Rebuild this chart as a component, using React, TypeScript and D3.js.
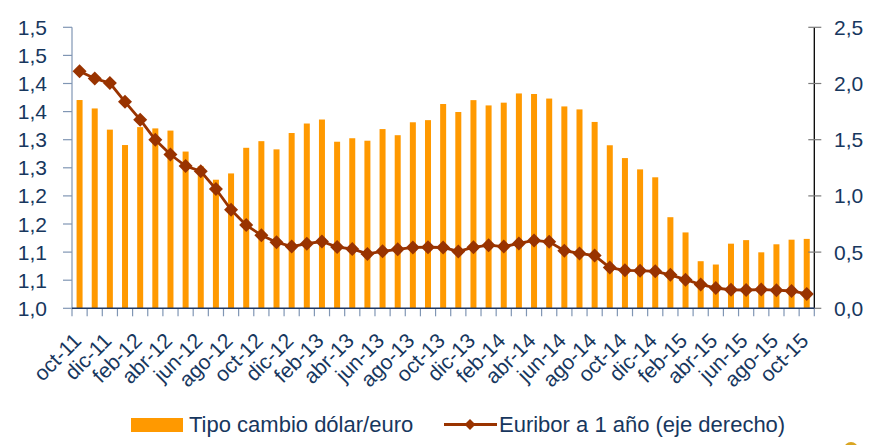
import React from "react";
import * as d3 from "d3";

const categories = [
  "oct-11","nov-11","dic-11",
  "ene-12","feb-12","mar-12","abr-12","may-12","jun-12","jul-12","ago-12","sep-12","oct-12","nov-12","dic-12",
  "ene-13","feb-13","mar-13","abr-13","may-13","jun-13","jul-13","ago-13","sep-13","oct-13","nov-13","dic-13",
  "ene-14","feb-14","mar-14","abr-14","may-14","jun-14","jul-14","ago-14","sep-14","oct-14","nov-14","dic-14",
  "ene-15","feb-15","mar-15","abr-15","may-15","jun-15","jul-15","ago-15","sep-15","oct-15",
];

const tipoCambio = [
  1.3706, 1.3556, 1.3179,
  1.2905, 1.3224, 1.3201, 1.3162, 1.2789, 1.2526, 1.2288, 1.2400, 1.2856, 1.2974, 1.2828, 1.3119,
  1.3288, 1.3359, 1.2964, 1.3026, 1.2982, 1.3189, 1.3080, 1.3310, 1.3348, 1.3635, 1.3493, 1.3704,
  1.3610, 1.3659, 1.3823, 1.3813, 1.3732, 1.3592, 1.3539, 1.3316, 1.2901, 1.2673, 1.2472, 1.2331,
  1.1621, 1.1350, 1.0838, 1.0779, 1.1150, 1.1213, 1.0996, 1.1139, 1.1221, 1.1235,
];

const euribor = [
  2.110, 2.044, 2.004,
  1.837, 1.678, 1.499, 1.368, 1.266, 1.219, 1.061, 0.877, 0.740, 0.650, 0.588, 0.549,
  0.575, 0.594, 0.545, 0.528, 0.484, 0.507, 0.525, 0.542, 0.543, 0.541, 0.506, 0.543,
  0.562, 0.549, 0.577, 0.604, 0.592, 0.513, 0.488, 0.469, 0.362, 0.338, 0.335, 0.329,
  0.298, 0.255, 0.212, 0.180, 0.165, 0.163, 0.167, 0.161, 0.154, 0.128,
];

const leftTicks = [1.0, 1.05, 1.1, 1.15, 1.2, 1.25, 1.3, 1.35, 1.4, 1.45, 1.5];
const rightTicks = [0, 0.5, 1.0, 1.5, 2.0, 2.5];

const seriesNames = ["Tipo cambio dólar/euro", "Euribor a 1 año (eje derecho)"];

const W = 876, H = 445;
const X0 = 72, X1 = 814.3, YB = 308.3, YT = 27.3;
const TEXT = "#17375E";
const BAR = "#FF9900";
const LINE = "#993300";
const FONT = "'Liberation Sans', Arial, sans-serif";

export default function App() {
  const x = d3.scaleBand<number>().domain(categories.map((_, i) => i)).range([X0, X1]).padding(0);
  const yL = d3.scaleLinear().domain([1.0, 1.5]).range([YB, YT]);
  const yR = d3.scaleLinear().domain([0, 2.5]).range([YB, YT]);
  const bw = x.bandwidth();
  const cx = (i: number) => (x(i) as number) + bw / 2;
  const barW = 6;

  const line = d3.line<number>().x((_, i) => cx(i)).y((d) => yR(d));
  const diamond = (px: number, py: number, r: number) =>
    `M${px},${py - r}L${px + r},${py}L${px},${py + r}L${px - r},${py}Z`;

  const fmt = (v: number) => (Math.round(v * 10 + 1e-6) / 10).toFixed(1).replace(".", ",");

  return (
    <svg width={W} height={H} style={{ position: "absolute", left: 0, top: 0, background: "#fff" }} fontFamily={FONT}>
      {/* bars */}
      {tipoCambio.map((v, i) => (
        <rect key={"b" + i} x={cx(i) - barW / 2} y={yL(v)} width={barW} height={YB - yL(v)} fill={BAR} />
      ))}

      {/* left axis */}
      <line x1={X0} x2={X0} y1={YT} y2={YB} stroke="#8096B4" strokeWidth={1.2} />
      {leftTicks.map((t, i) => (
        <g key={"lt" + i}>
          <line x1={X0 - 9} x2={X0} y1={yL(t)} y2={yL(t)} stroke="#8096B4" strokeWidth={1.2} />
          <text x={47} y={yL(t)} dy="0.36em" textAnchor="end" fontSize={21} fill={TEXT}>
            {fmt(t)}
          </text>
        </g>
      ))}

      {/* right axis */}
      <line x1={X1} x2={X1} y1={YT} y2={YB} stroke="#000" strokeWidth={1.3} />
      {rightTicks.map((t, i) => (
        <g key={"rt" + i}>
          <line x1={X1 - 6} x2={X1 + 7} y1={yR(t)} y2={yR(t)} stroke="#7a7a7a" strokeWidth={1.2} />
          <text x={834} y={yR(t)} dy="0.36em" textAnchor="start" fontSize={21} fill={TEXT}>
            {fmt(t)}
          </text>
        </g>
      ))}

      {/* bottom axis */}
      {categories.map((_, i) => (
        <line key={"xt" + i} x1={x(i) as number} x2={x(i) as number} y1={YB} y2={YB + 8} stroke="#8096B4" strokeWidth={1.2} />
      ))}
      <line x1={X1} x2={X1} y1={YB} y2={YB + 8} stroke="#8096B4" strokeWidth={1.2} />
      <line x1={X0} x2={X1} y1={YB} y2={YB} stroke="#1F3864" strokeWidth={1.5} />

      {categories.map((c, i) =>
        i % 2 === 0 ? (
          <text
            key={"xl" + i}
            transform={`translate(${cx(i) + 3},${342}) rotate(-45)`}
            textAnchor="end"
            fontSize={21}
            fill={TEXT}
          >
            {c}
          </text>
        ) : null
      )}

      {/* line */}
      <path d={line(euribor) || ""} fill="none" stroke={LINE} strokeWidth={2.8} />
      {euribor.map((v, i) => (
        <path key={"d" + i} d={diamond(cx(i), yR(v), 7)} fill={LINE} />
      ))}

      {/* legend */}
      <rect x={131} y={418} width={52} height={14} fill={BAR} />
      <text x={189} y={432} fontSize={22} fill={TEXT}>{seriesNames[0]}</text>
      <line x1={444} x2={497} y1={424.5} y2={424.5} stroke={LINE} strokeWidth={2.8} />
      <path d={diamond(470, 424.5, 5.5)} fill={LINE} />
      <text x={499} y={432} fontSize={22} fill={TEXT}>{seriesNames[1]}</text>

      {/* corner logo fragment */}
      <circle cx={851} cy={449} r={7} fill="#D9A521" />
    </svg>
  );
}
